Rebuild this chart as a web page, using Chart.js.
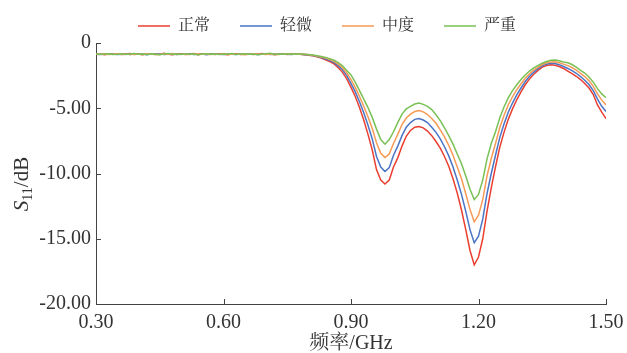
<!DOCTYPE html>
<html>
<head>
<meta charset="utf-8">
<script src="https://cdn.jsdelivr.net/npm/chart.js@4.4.0/dist/chart.umd.min.js"></script>
<style>
    html, body { margin: 0; padding: 0; background: #fff; }
    #wrap { width: 627px; height: 353px; }
</style>
</head>
<body>
<div id="wrap"><canvas id="s11Chart" width="627" height="353"></canvas></div>
<script>
// frequency grid, 0.30 .. 1.50 GHz in 0.01 steps
const freqGHz = [];
for (let i = 0; i <= 120; i++) freqGHz.push(Math.round(30 + i) / 100);

const seriesNames = ['正常', '轻微', '中度', '严重'];
const seriesColors = ['#ea3f30', '#4a74c6', '#f69a55', '#79c155'];

const xTicks = [0.30, 0.60, 0.90, 1.20, 1.50];
const yTicks = [0, -5, -10, -15, -20];

// S11 (dB)
const s11Normal = [
    -0.88, -0.85, -0.9, -0.84, -0.87, -0.83, -0.89, -0.86, -0.8, -0.88,
    -0.85, -0.9, -0.82, -0.87, -0.84, -0.88, -0.79, -0.86, -0.9, -0.85,
    -0.83, -0.88, -0.86, -0.81, -0.89, -0.85, -0.87, -0.84, -0.88, -0.83,
    -0.86, -0.9, -0.85, -0.82, -0.88, -0.86, -0.84, -0.89, -0.85, -0.8,
    -0.87, -0.84, -0.9, -0.86, -0.83, -0.88, -0.85, -0.87,
    -0.87, -0.9, -0.93, -0.98, -1.05, -1.15, -1.28, -1.42, -1.6, -1.9,
    -2.25, -2.75, -3.4, -4.1, -4.95, -5.9, -7.0, -8.2, -9.7, -10.5,
    -10.8, -10.5, -9.5, -8.8, -7.9, -7.15, -6.7, -6.45, -6.4, -6.5,
    -6.75, -7.1, -7.55, -8.05, -8.7, -9.45, -10.4, -11.5, -12.8, -14.3,
    -15.9, -17.0, -16.4, -15.0, -12.9, -11.1, -9.5, -8.0, -6.85, -5.85,
    -5.05, -4.35, -3.75, -3.2, -2.75, -2.4, -2.1, -1.85, -1.72, -1.67,
    -1.7, -1.8, -1.95, -2.15, -2.35, -2.55, -2.8, -3.1, -3.45, -3.95,
    -4.75, -5.3, -5.8
];
const s11Slight = [
    -0.86, -0.88, -0.85, -0.87, -0.84, -0.89, -0.86, -0.83, -0.88, -0.85,
    -0.87, -0.84, -0.9, -0.85, -0.86, -0.83, -0.88, -0.86, -0.84, -0.89,
    -0.85, -0.87, -0.82, -0.88, -0.86, -0.84, -0.9, -0.85, -0.83, -0.87,
    -0.88, -0.84, -0.86, -0.89, -0.83, -0.87, -0.85, -0.82, -0.88, -0.86,
    -0.84, -0.89, -0.85, -0.87, -0.83, -0.86, -0.88, -0.85,
    -0.86, -0.89, -0.92, -0.96, -1.02, -1.11, -1.22, -1.35, -1.5, -1.75,
    -2.05, -2.5, -3.1, -3.75, -4.5, -5.35, -6.3, -7.35, -8.7, -9.5,
    -9.85, -9.55, -8.6, -7.9, -7.1, -6.45, -6.1, -5.85, -5.78, -5.9,
    -6.1, -6.45, -6.85, -7.35, -7.95, -8.65, -9.5, -10.5, -11.6, -12.9,
    -14.3, -15.3, -14.8, -13.5, -11.55, -10.0, -8.6, -7.25, -6.2, -5.3,
    -4.6, -3.98, -3.45, -2.95, -2.55, -2.23, -1.97, -1.75, -1.62, -1.56,
    -1.57, -1.66, -1.8, -1.95, -2.12, -2.32, -2.57, -2.85, -3.18, -3.65,
    -4.3, -4.85, -5.25
];
const s11Moderate = [
    -0.85, -0.87, -0.84, -0.88, -0.86, -0.82, -0.87, -0.85, -0.89, -0.84,
    -0.86, -0.88, -0.83, -0.85, -0.9, -0.86, -0.84, -0.87, -0.81, -0.88,
    -0.86, -0.84, -0.88, -0.85, -0.83, -0.87, -0.86, -0.89, -0.84, -0.86,
    -0.82, -0.88, -0.85, -0.87, -0.84, -0.9, -0.86, -0.83, -0.87, -0.85,
    -0.88, -0.84, -0.86, -0.89, -0.85, -0.83, -0.87, -0.86,
    -0.85, -0.87, -0.9, -0.94, -1.0, -1.07, -1.16, -1.27, -1.41, -1.62,
    -1.9, -2.3, -2.8, -3.4, -4.1, -4.85, -5.65, -6.55, -7.65, -8.45,
    -8.78, -8.5, -7.7, -7.0, -6.25, -5.75, -5.45, -5.25, -5.18, -5.28,
    -5.48, -5.78, -6.15, -6.65, -7.2, -7.85, -8.6, -9.5, -10.4, -11.55,
    -12.75, -13.7, -13.2, -12.0, -10.2, -8.85, -7.7, -6.5, -5.55, -4.75,
    -4.12, -3.58, -3.12, -2.7, -2.35, -2.07, -1.85, -1.65, -1.52, -1.45,
    -1.44, -1.51, -1.62, -1.73, -1.88, -2.08, -2.33, -2.57, -2.88, -3.32,
    -3.9, -4.38, -4.75
];
const s11Severe = [
    -0.84, -0.87, -0.85, -0.82, -0.88, -0.86, -0.83, -0.89, -0.85, -0.8,
    -0.87, -0.85, -0.88, -0.83, -0.86, -0.9, -0.84, -0.81, -0.87, -0.85,
    -0.88, -0.83, -0.86, -0.84, -0.9, -0.85, -0.82, -0.87, -0.85, -0.89,
    -0.84, -0.86, -0.8, -0.88, -0.85, -0.83, -0.87, -0.84, -0.9, -0.86,
    -0.83, -0.78, -0.88, -0.85, -0.86, -0.83, -0.87, -0.85,
    -0.85, -0.86, -0.88, -0.92, -0.97, -1.03, -1.1, -1.2, -1.32, -1.5,
    -1.75, -2.1, -2.45, -3.0, -3.65, -4.3, -4.95, -5.7, -6.6, -7.4,
    -7.75, -7.4, -6.8, -6.1, -5.45, -5.05, -4.85, -4.68, -4.6, -4.7,
    -4.85, -5.1, -5.5, -5.95, -6.5, -7.1, -7.75, -8.5, -9.25, -10.2,
    -11.2, -12.0, -11.6, -10.5, -8.9, -7.7, -6.8, -5.75, -4.9, -4.2,
    -3.65, -3.2, -2.8, -2.45, -2.15, -1.9, -1.72, -1.55, -1.42, -1.33,
    -1.3, -1.36, -1.45, -1.52, -1.65, -1.85, -2.1, -2.3, -2.6, -3.0,
    -3.5, -3.9, -4.2
];

const seriesValues = [s11Normal, s11Slight, s11Moderate, s11Severe];

const textColor = '#333';
const axisColor = '#444';
const serifFont = '"Liberation Serif", "Times New Roman", "Noto Serif CJK SC", "Noto Sans CJK SC", serif';

// nudge the legend so it sits where the original one does
const legendShift = {
    id: 'legendShift',
    afterLayout(chart) {
        const lg = chart.legend;
        if (!lg) return;
        lg.left += 12; lg.right += 12;
        lg.top += 1; lg.bottom += 1;
    }
};

// small tick marks pointing into the plot
const innerTicks = {
    id: 'innerTicks',
    afterDraw(chart) {
        const { ctx, chartArea: a, scales } = chart;
        ctx.save();
        ctx.strokeStyle = axisColor;
        ctx.lineWidth = 1;
        ctx.beginPath();
        xTicks.forEach(v => {
            const px = Math.round(scales.x.getPixelForValue(v)) + 0.5;
            ctx.moveTo(px, a.bottom);
            ctx.lineTo(px, a.bottom - 5);
        });
        yTicks.forEach(v => {
            const py = Math.round(scales.y.getPixelForValue(v)) + 0.5;
            ctx.moveTo(a.left, py);
            ctx.lineTo(a.left + 5, py);
        });
        ctx.stroke();
        ctx.restore();
    }
};

// y title with italic S and subscript 11
const yTitle = {
    id: 'yTitle',
    afterDraw(chart) {
        const { ctx } = chart;
        const parts = [
            { text: 'S', font: 'italic 21px ' + serifFont, dy: 0 },
            { text: '11', font: '14px ' + serifFont, dy: 4 },
            { text: '/dB', font: '21px ' + serifFont, dy: 0 }
        ];
        ctx.save();
        let total = 0;
        parts.forEach(p => {
            ctx.font = p.font;
            p.w = ctx.measureText(p.text).width;
            total += p.w;
        });
        ctx.translate(21, 184);
        ctx.rotate(-Math.PI / 2);
        ctx.fillStyle = textColor;
        ctx.textBaseline = 'alphabetic';
        let cx = -total / 2;
        parts.forEach(p => {
            ctx.font = p.font;
            ctx.fillText(p.text, cx, 7 + p.dy);
            cx += p.w;
        });
        ctx.restore();
    }
};

const datasets = seriesNames.map((name, i) => ({
    label: name,
    data: freqGHz.map((f, k) => ({ x: f, y: seriesValues[i][k] })),
    borderColor: seriesColors[i],
    backgroundColor: seriesColors[i],
    borderWidth: 1.5,
    pointRadius: 0,
    tension: 0,
    fill: false,
    order: seriesNames.length - i
}));

const ctx = document.getElementById('s11Chart').getContext('2d');
new Chart(ctx, {
    type: 'line',
    data: { datasets: datasets },
    options: {
        responsive: false,
        animation: false,
        devicePixelRatio: 1,
        layout: { padding: { left: 40, right: 21, top: 3, bottom: 0 } },
        plugins: {
            tooltip: { enabled: false },
            legend: {
                position: 'top',
                labels: {
                    usePointStyle: true,
                    pointStyle: 'line',
                    pointStyleWidth: 32,
                    boxHeight: 16,
                    padding: 14,
                    color: textColor,
                    font: { family: serifFont, size: 16 },
                    generateLabels: function(chart) {
                        const items = Chart.defaults.plugins.legend.labels.generateLabels(chart);
                        items.forEach(it => { it.text = it.text + '\u3000'; });
                        return items;
                    },
                    sort: (a, b) => a.datasetIndex - b.datasetIndex
                }
            }
        },
        scales: {
            x: {
                type: 'linear',
                min: 0.3,
                max: 1.5,
                afterBuildTicks: s => { s.ticks = xTicks.map(v => ({ value: v })); },
                ticks: {
                    color: textColor,
                    font: { family: serifFont, size: 20 },
                    padding: 7,
                    maxRotation: 0,
                    callback: v => Number(v).toFixed(2)
                },
                grid: { display: false, drawTicks: false },
                border: { display: true, color: axisColor, width: 1 },
                title: {
                    display: true,
                    text: '频率/GHz',
                    color: textColor,
                    font: { family: serifFont, size: 20 },
                    padding: { top: 0, bottom: -3 }
                },
                afterFit: s => {
                    s.height = 49;
                    s.paddingLeft = 0;
                    s.paddingRight = 0;
                }
            },
            y: {
                min: -20,
                max: 0,
                afterBuildTicks: s => { s.ticks = yTicks.map(v => ({ value: v })); },
                ticks: {
                    color: textColor,
                    font: { family: serifFont, size: 20 },
                    padding: 5,
                    callback: v => v === 0 ? '0' : Number(v).toFixed(2)
                },
                grid: { display: false, drawTicks: false },
                border: { display: true, color: axisColor, width: 1 },
                afterFit: s => { s.width = 56; }
            }
        }
    },
    plugins: [legendShift, innerTicks, yTitle]
});
</script>
</body>
</html>
